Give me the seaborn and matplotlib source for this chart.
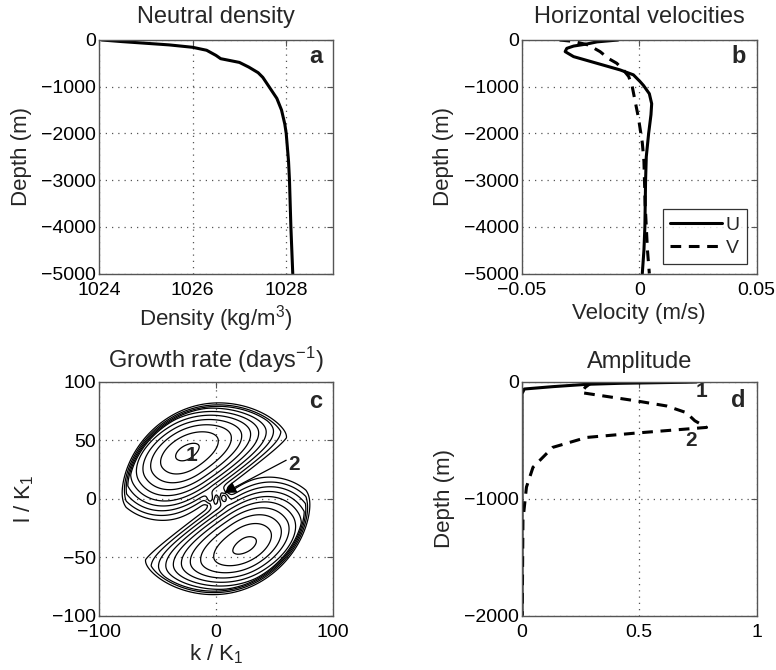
import numpy as np
import pandas as pd
import matplotlib
matplotlib.use("Agg")
import matplotlib.pyplot as plt
import seaborn as sns

# ---------------- data ----------------
# (a) neutral density profile
depth_a = [0, -35, -70, -105, -156, -220, -330, -400, -440, -480, -580, -700, -800,
           -950, -1100, -1250, -1500, -1800, -2000, -2600, -3000, -4000, -5000]
dens_a = [1024.06, 1024.5, 1025.0, 1025.5, 1026.0, 1026.3, 1026.5, 1026.6, 1026.8,
          1027.0, 1027.2, 1027.4, 1027.5, 1027.6, 1027.7, 1027.8, 1027.9, 1027.97,
          1028.0, 1028.05, 1028.07, 1028.1, 1028.14]

# (b) horizontal velocities
depth_u = [0, -40, -85, -130, -179, -249, -356, -498, -640, -746, -888, -973, -1150,
           -1364, -1600, -2003, -2500, -3000, -4000, -4500, -5000]
vel_u = [-0.009, -0.018, -0.0223, -0.028, -0.0309, -0.0316, -0.028, -0.0181, -0.0082,
         -0.0025, 0.0003, 0.0018, 0.0043, 0.0053, 0.005, 0.004, 0.003, 0.0027, 0.0024,
         0.002, 0.0013]
depth_v = [0, -30, -107, -249, -400, -498, -640, -782, -995, -1200, -1650, -2200, -2600,
           -3500, -4500, -5000]
vel_v = [-0.034, -0.028, -0.0217, -0.0167, -0.013, -0.0096, -0.0068, -0.0045, -0.003,
         -0.0022, -0.0004, 0.0013, 0.002, 0.0025, 0.0035, 0.0043]

# (d) mode amplitudes
depth_m1 = [0, -2, -11, -20, -40, -60, -100, -2000]
amp_m1 = [0.744, 0.70, 0.42, 0.275, 0.13, 0.01, 0.0, 0.0]
depth_m2 = [0, -45, -91, -162, -205, -262, -332, -389, -403, -437, -475, -560, -730,
            -900, -1185, -2000]
amp_m2 = [0.30, 0.27, 0.253, 0.488, 0.616, 0.70, 0.737, 0.787, 0.70, 0.488, 0.275,
          0.131, 0.047, 0.019, 0.004, 0.001]

# (c) growth-rate lobe geometry (upper lobe; lower lobe is
#     its point reflection through the origin)
lobe_center = (-24.0, 39.0)
lobe_axis_deg = 30.0
lobe_len_fwd = 92.0      # extent toward the tail (right)
lobe_len_back = 74.0     # extent toward the blunt end (left)
lobe_half_above = 42.0
lobe_half_below = 56.0
lobe_bend = 0.004        # downward bend of the tail
gap_angle_deg = 38.0     # gap between the two lobes, through the origin
gap_soft = 12.0
boundary_axis_deg = 55.0
boundary_semi = (86.0, 81.0)
boundary_ramp = 0.07
bump_centers = [(-4.5, -1.0), (6.0, 2.0)]
bump_amp = [0.24, 0.34]
bump_size = [(3.8, 5.6), (4.6, 5.6)]
contour_levels = [0.07, 0.17, 0.27, 0.37, 0.47, 0.57, 0.67, 0.77, 0.87, 0.96]

# tick labels
xt_a = [1024, 1026, 1028]
xt_b = [-0.05, 0, 0.05]
xt_b_lab = ["\u22120.05", "0", "0.05"]
yt_depth = [0, -1000, -2000, -3000, -4000, -5000]
xt_c = [-100, 0, 100]
yt_c = [-100, -50, 0, 50, 100]
xt_d = [0, 0.5, 1]
xt_d_lab = ["0", "0.5", "1"]
yt_d = [0, -1000, -2000]

# ---------------- style ----------------
sns.set_theme(style="white")
plt.rcParams["font.family"] = ["Liberation Sans", "DejaVu Sans"]
plt.rcParams["mathtext.default"] = "regular"
plt.rcParams["axes.unicode_minus"] = True

TICK_FS = 14
LAB_FS = 16
TIT_FS = 17

fig = plt.figure(figsize=(7.76, 6.70), dpi=100)
W, H = 776.0, 670.0


def add_ax(x0, y0, x1, y1):
    return fig.add_axes([x0 / W, 1 - y1 / H, (x1 - x0) / W, (y1 - y0) / H])


ax_a = add_ax(99, 40, 333, 273.5)
ax_b = add_ax(522, 40, 756.5, 273.5)
ax_c = add_ax(99, 382, 333, 615.5)
ax_d = add_ax(522, 382, 756.5, 615.5)


def minus(v):
    return str(v).replace("-", "\u2212")


def style(ax):
    for s in ax.spines.values():
        s.set_color("#555555")
        s.set_linewidth(1.0)
        s.set_visible(True)
    ax.tick_params(direction="in", top=True, right=True, length=4, width=0.8,
                   color="#555555", labelsize=TICK_FS, labelcolor="black")
    ax.tick_params(axis="x", pad=6)
    ax.tick_params(axis="y", pad=2)
    ax.grid(True, linestyle=(0, (1, 4)), color="#555555", linewidth=0.9)
    ax.set_axisbelow(True)


def letter(ax, x, y, s):
    ax.text(x, y, s, transform=ax.transAxes, fontsize=17, fontweight="bold",
            ha="right", va="center")


# ---- panel a ----
df_a = pd.DataFrame({"depth": depth_a, "dens": dens_a})
sns.lineplot(data=df_a, x="dens", y="depth", sort=False, estimator=None,
             color="black", linewidth=2.2, ax=ax_a)
ax_a.set_xlim(1024, 1029)
ax_a.set_ylim(-5000, 0)
ax_a.set_xticks(xt_a)
ax_a.set_xticklabels([str(v) for v in xt_a])
ax_a.set_yticks(yt_depth)
ax_a.set_yticklabels([minus(v) for v in yt_depth])
ax_a.set_xlabel("Density (kg/m$^3$)", fontsize=LAB_FS, labelpad=3)
ax_a.set_ylabel("Depth (m)", fontsize=LAB_FS, labelpad=7)
ax_a.set_title("Neutral density", fontsize=TIT_FS, pad=12)
letter(ax_a, 0.955, 0.93, "a")
style(ax_a)

# ---- panel b ----
df_u = pd.DataFrame({"depth": depth_u, "vel": vel_u})
df_v = pd.DataFrame({"depth": depth_v, "vel": vel_v})
sns.lineplot(data=df_u, x="vel", y="depth", sort=False, estimator=None,
             color="black", linewidth=2.2, ax=ax_b, label="U")
sns.lineplot(data=df_v, x="vel", y="depth", sort=False, estimator=None,
             color="black", linewidth=2.2, linestyle=(0, (3.5, 2.5)), ax=ax_b, label="V")
ax_b.set_xlim(-0.05, 0.05)
ax_b.set_ylim(-5000, 0)
ax_b.set_xticks(xt_b)
ax_b.set_xticklabels(xt_b_lab)
ax_b.set_yticks(yt_depth)
ax_b.set_yticklabels([minus(v) for v in yt_depth])
ax_b.set_xlabel("Velocity (m/s)", fontsize=LAB_FS, labelpad=3)
ax_b.set_ylabel("Depth (m)", fontsize=LAB_FS, labelpad=7)
ax_b.set_title("Horizontal velocities", fontsize=TIT_FS, pad=12)
letter(ax_b, 0.955, 0.93, "b")
leg = ax_b.legend(loc="lower right", fontsize=TICK_FS, frameon=True, fancybox=False,
                  edgecolor="black", handlelength=2.7, handletextpad=0.2,
                  borderpad=0.35, labelspacing=0.3, borderaxespad=0.5)
leg.get_frame().set_linewidth(0.9)
style(ax_b)

# ---- panel c ----
k = np.linspace(-100, 100, 601)
l = np.linspace(-100, 100, 601)
KK, LL = np.meshgrid(k, l)


def lobe(kk, ll):
    a = np.deg2rad(lobe_axis_deg)
    dk, dl = kk - lobe_center[0], ll - lobe_center[1]
    u = dk * np.cos(a) + dl * np.sin(a)
    v = -dk * np.sin(a) + dl * np.cos(a)
    v = v + lobe_bend * np.clip(u, 0, None) ** 2
    lu = np.where(u > 0, lobe_len_fwd, lobe_len_back)
    lv = np.where(v > 0, lobe_half_above, lobe_half_below)
    shape = np.clip(1 - (u / lu) ** 2 - (v / lv) ** 2, 0, None)
    g = np.deg2rad(gap_angle_deg)
    dist = -kk * np.sin(g) + ll * np.cos(g)
    side = 1 - np.exp(-np.clip(dist, 0, None) / gap_soft)
    return shape * side


b = np.deg2rad(boundary_axis_deg)
p = KK * np.cos(b) + LL * np.sin(b)
q = -KK * np.sin(b) + LL * np.cos(b)
re = np.sqrt((p / boundary_semi[0]) ** 2 + (q / boundary_semi[1]) ** 2)
env = np.clip((1 - re) / boundary_ramp, 0, 1)
field = (lobe(KK, LL) + lobe(-KK, -LL)) * env
for (bx, by), ba, (sx, sy) in zip(bump_centers, bump_amp, bump_size):
    field = field + ba * np.exp(-((KK - bx) / sx) ** 2 - ((LL - by) / sy) ** 2)
ax_c.contour(KK, LL, field, levels=contour_levels, colors="black", linewidths=0.9)
ax_c.set_xlim(-100, 100)
ax_c.set_ylim(-100, 100)
ax_c.set_xticks(xt_c)
ax_c.set_xticklabels([minus(v) for v in xt_c])
ax_c.set_yticks(yt_c)
ax_c.set_yticklabels([minus(v) for v in yt_c])
ax_c.set_xlabel("k / K$_1$", fontsize=LAB_FS, labelpad=1)
ax_c.set_ylabel("l / K$_1$", fontsize=LAB_FS, labelpad=12)
ax_c.set_title("Growth rate (days$^{-1}$)", fontsize=TIT_FS, pad=10)
letter(ax_c, 0.955, 0.915, "c")
ax_c.text(-21, 37, "1", fontsize=15, fontweight="bold", ha="center", va="center")
ax_c.text(67, 29, "2", fontsize=15, fontweight="bold", ha="center", va="center")
ax_c.annotate("", xy=(7, 5), xytext=(60, 33),
              arrowprops=dict(arrowstyle="-|>", color="black", lw=0.9,
                              mutation_scale=18, shrinkA=0, shrinkB=0))
style(ax_c)

# ---- panel d ----
df_m1 = pd.DataFrame({"depth": depth_m1, "amp": amp_m1})
df_m2 = pd.DataFrame({"depth": depth_m2, "amp": amp_m2})
sns.lineplot(data=df_m1, x="amp", y="depth", sort=False, estimator=None,
             color="black", linewidth=2.2, ax=ax_d)
sns.lineplot(data=df_m2, x="amp", y="depth", sort=False, estimator=None,
             color="black", linewidth=2.2, linestyle=(0, (3.5, 2.5)), ax=ax_d)
ax_d.set_xlim(0, 1)
ax_d.set_ylim(-2000, 0)
ax_d.set_xticks(xt_d)
ax_d.set_xticklabels(xt_d_lab)
ax_d.set_yticks(yt_d)
ax_d.set_yticklabels([minus(v) for v in yt_d])
ax_d.set_xlabel("")
ax_d.set_ylabel("Depth (m)", fontsize=LAB_FS, labelpad=7)
ax_d.set_title("Amplitude", fontsize=TIT_FS, pad=10)
letter(ax_d, 0.955, 0.92, "d")
ax_d.text(0.765, -83, "1", fontsize=15, fontweight="bold", ha="center", va="center")
ax_d.text(0.72, -503, "2", fontsize=15, fontweight="bold", ha="center", va="center")
style(ax_d)

fig.savefig("out.png", dpi=100)
